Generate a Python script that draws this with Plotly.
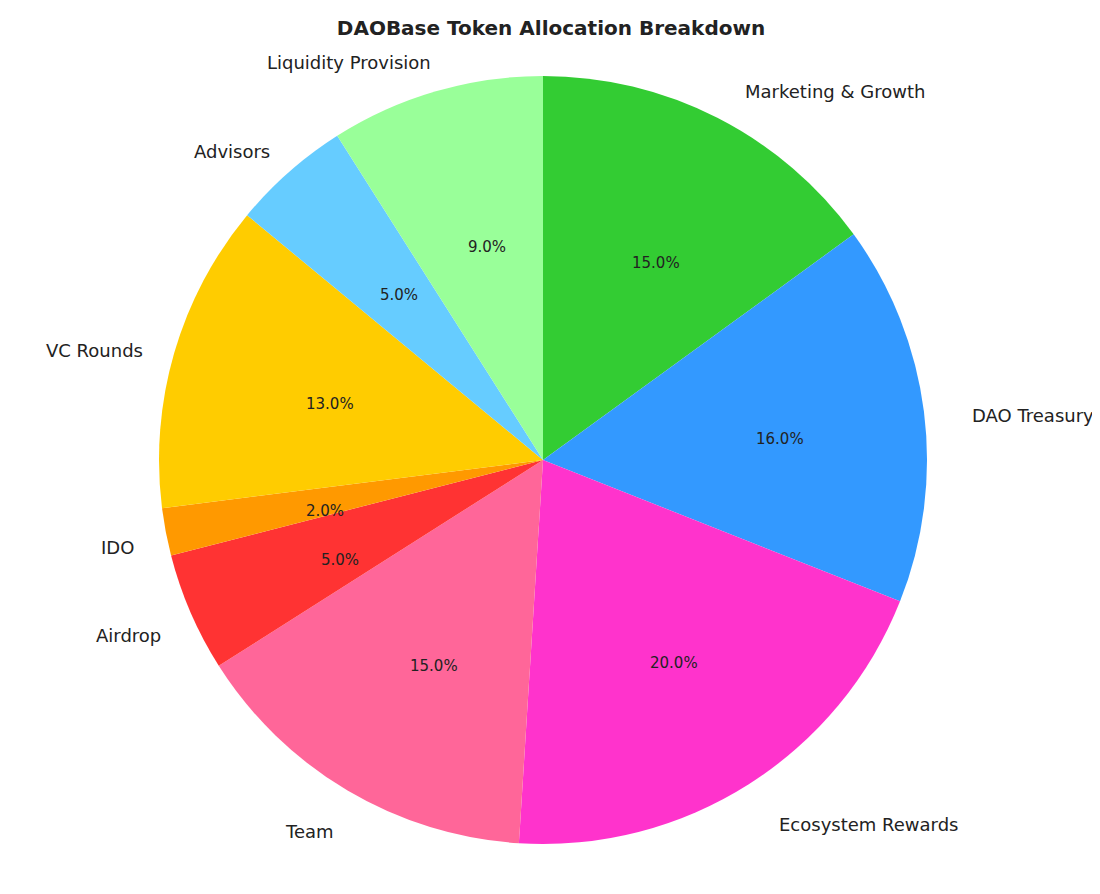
import math
import plotly.graph_objects as go

labels = ["Liquidity Provision", "Advisors", "VC Rounds", "IDO", "Airdrop", "Team",
          "Ecosystem Rewards", "DAO Treasury", "Marketing & Growth"]
values = [9, 5, 13, 2, 5, 15, 20, 16, 15]
colors = ["#99ff99", "#66ccff", "#ffcc00", "#ff9900", "#ff3333", "#ff6699",
          "#ff33cc", "#3399ff", "#33cc33"]

W, H = 1100, 894
cx, cy, r = 543, 460, 384
dcx, dcy = cx - 8, cy - 8  # compensate plotly's domain placement
fig = go.Figure(go.Pie(labels=labels[::-1], values=values[::-1], sort=False, direction="clockwise",
                       rotation=0, marker=dict(colors=colors[::-1], line=dict(width=0)),
                       textinfo="none", hoverinfo="label+percent", showlegend=False,
                       domain=dict(x=[(dcx - r) / W, (dcx + r) / W], y=[(H - dcy - r) / H, (H - dcy + r) / H])))

total = sum(values)
ann = []
cum = 0
for lab, v in zip(labels, values):
    mid = 90 + 360 * (cum + v / 2) / total
    cum += v
    a = math.radians(mid)
    dx, dy = math.cos(a), math.sin(a)
    ann.append(dict(x=(cx + 1.1 * r * dx) / W, y=(H - cy + 1.1 * r * dy) / H, xref="paper", yref="paper",
                    text=lab, showarrow=False, xanchor="left" if dx > 0 else "right", yanchor="middle",
                    font=dict(size=18, color="#222")))
    ann.append(dict(x=(cx + 0.6 * r * dx) / W, y=(H - cy + 0.6 * r * dy) / H, xref="paper", yref="paper",
                    text=f"{100 * v / total:.1f}%", showarrow=False, xanchor="center", yanchor="middle",
                    font=dict(size=15, color="#222")))

fig.update_layout(width=W, height=H, margin=dict(l=0, r=0, t=0, b=0), paper_bgcolor="white",
                  font=dict(family="DejaVu Sans"), annotations=ann,
                  title=dict(text="<b>DAOBase Token Allocation Breakdown</b>", x=543 / W, xanchor="center",
                             y=1 - 20 / H, yanchor="middle", font=dict(size=20, color="#222")))
fig.write_html("out.html")
